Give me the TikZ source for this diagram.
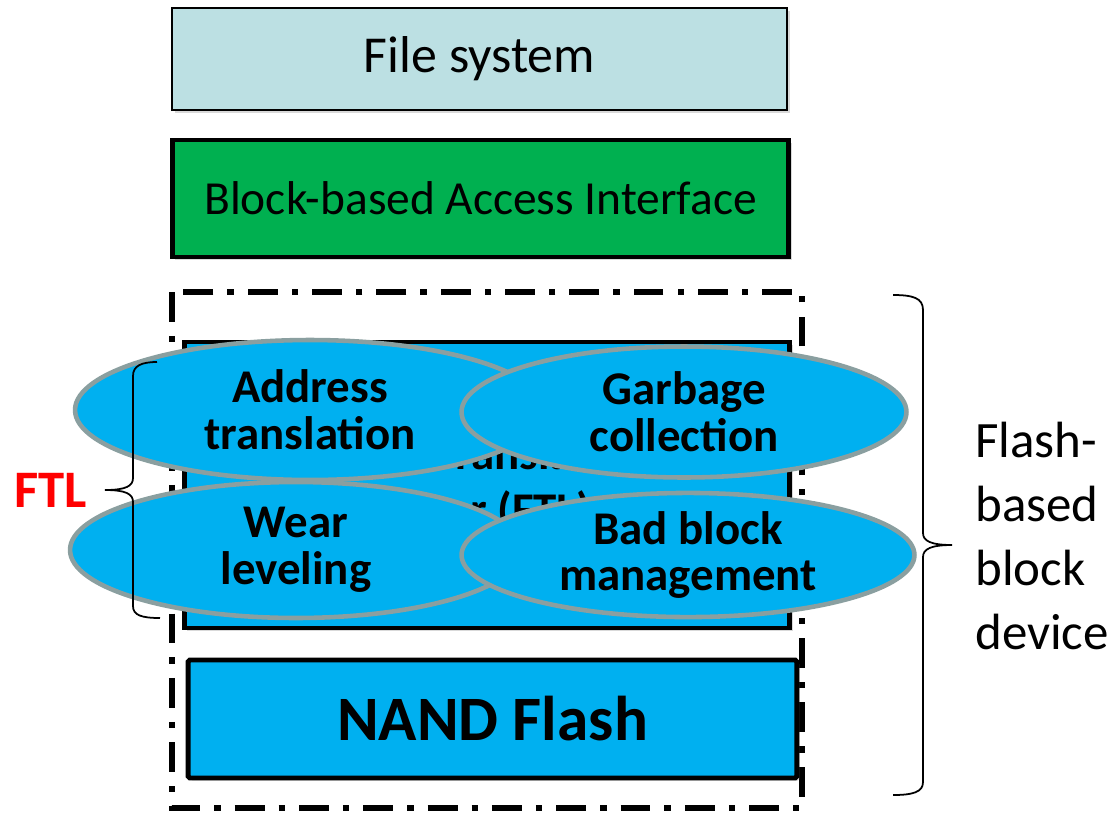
\documentclass[tikz,border=0pt]{standalone}
\usepackage{fontspec}
\setmainfont{Carlito}
\usetikzlibrary{shapes.geometric,shadows}

\definecolor{fsblue}{HTML}{BCE0E3}
\definecolor{bagreen}{HTML}{00B050}
\definecolor{flashblue}{HTML}{00B0F0}
\definecolor{ovalgray}{HTML}{8A9FA0}

\begin{document}
\begin{tikzpicture}[x=0.02cm, y=-0.02cm]
\tikzset{
    layer/.style={rectangle, draw=black, line width=2.8pt, inner sep=0pt, align=center,
        drop shadow={shadow xshift=1.5pt, shadow yshift=-1.5pt, opacity=.3}},
    oval/.style={ellipse, draw=ovalgray, fill=flashblue, line width=2.6pt, inner sep=0pt, align=center,
        font=\fontsize{26.7}{26.7}\selectfont\bfseries},
    mybrace/.style={line width=1pt}
}
\useasboundingbox (0,0) rectangle (1115,812);

\node[layer, fill=fsblue, line width=1.1pt, minimum width=12.3cm, minimum height=2.04cm,
    font=\fontsize{29.5}{35}\selectfont] (fs) at (479.5,59) {File system};
\node[layer, fill=bagreen, minimum width=12.34cm, minimum height=2.34cm,
    font=\fontsize{27}{32}\selectfont] (bai) at (480.5,198.5) {Block-based Access Interface};

% dash-dotted frame of the device
\draw[line width=3.2pt, dash pattern=on 17pt off 8pt on 3.6pt off 8pt] (172,292) rectangle (802,808);

\node[layer, fill=flashblue, minimum width=12.12cm, minimum height=5.72cm,
    font=\fontsize{26.7}{32}\selectfont\bfseries] (ftl) at (487,485) {Flash Translation\\Layer (FTL)};
\node[layer, fill=flashblue, rounded corners=1pt, minimum width=12.18cm, minimum height=2.36cm,
    font=\fontsize{36}{40}\selectfont\bfseries] (nand) at (492.5,719) {NAND Flash};

\node[oval, minimum width=9.4cm, minimum height=2.8cm] (addr) at (310,410) {Address\\translation};
\node[oval, minimum width=8.9cm, minimum height=2.62cm] (gc) at (684,412) {Garbage\\collection};
\node[oval, minimum width=9.04cm, minimum height=2.72cm] (wear) at (296,550) {Wear\\leveling};
\node[oval, minimum width=9.06cm, minimum height=2.12cm] (bad) at (688,555) {Bad block\\management};

% braces, drawn by hand for the tight curls
\draw[mybrace] (157,362) .. controls (141,362) and (133,366) .. (133,376) -- (133,478)
    .. controls (133,486) and (126,490) .. (105,490) .. controls (126,490) and (133,494) .. (133,502)
    -- (133,606) .. controls (133,615) and (141,618) .. (160,618);
\draw[mybrace] (893,295) .. controls (913,295) and (923,298) .. (923,310) -- (923,533)
    .. controls (923,541) and (931,545) .. (952,545) .. controls (931,545) and (923,549) .. (923,557)
    -- (923,782) .. controls (923,792) and (913,795) .. (893,795);

\node[text=red, font=\fontsize{30}{36}\selectfont\bfseries] (ftllabel) at (51,490) {FTL};
\node[anchor=west, align=left, inner sep=0pt, font=\fontsize{29}{36.3}\selectfont] (devlabel) at (975,536)
    {Flash-\\based\\block\\device};
\end{tikzpicture}
\end{document}
